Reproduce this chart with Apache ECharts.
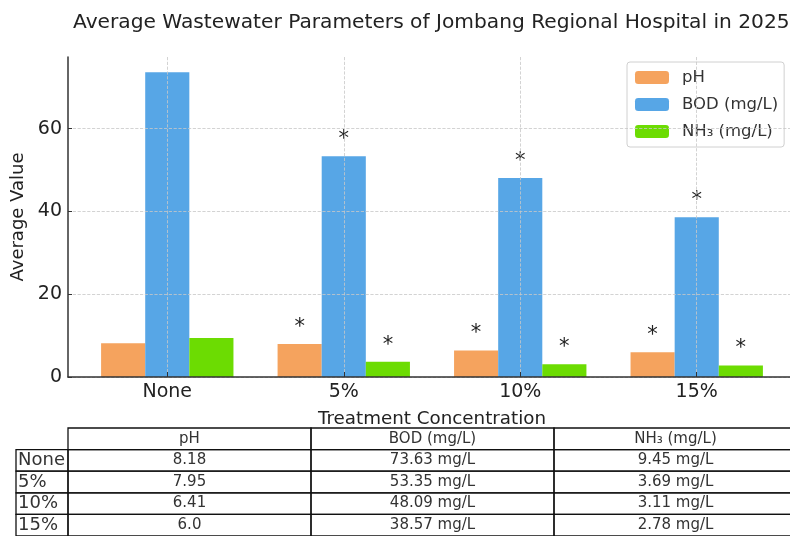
<!DOCTYPE html>
<html>
<head>
    <meta charset="utf-8">
    <title>Average Wastewater Parameters</title>
    <script src="https://cdn.jsdelivr.net/npm/echarts@6.0.0/dist/echarts.min.js"></script>
    <style>
        body {
            margin: 0;
            padding: 0;
            background: #fff;
            overflow: hidden;
        }

        #chart {
            width: 790px;
            height: 536px;
        }
    </style>
</head>
<body>
    <div id="chart"></div>

    <script>
        // data
        const concentrations = ['None', '5%', '10%', '15%'];
        const paramNames = ['pH', 'BOD (mg/L)', 'NH\u2083 (mg/L)'];
        const phValues = [8.18, 7.95, 6.41, 6.0];
        const bodValues = [73.63, 53.35, 48.09, 38.57];
        const nh3Values = [9.45, 3.69, 3.11, 2.78];
        // which bars carry a significance star
        const phStars = [false, true, true, true];
        const bodStars = [false, true, true, true];
        const nh3Stars = [false, true, true, true];
        const yTicks = [0, 20, 40, 60];

        const font = 'DejaVu Sans';
        const colors = ['#F5A35E', '#57A6E6', '#6CDC02'];

        const chart = echarts.init(document.getElementById('chart'));

        function pyStr(v) {
            return Number.isInteger(v) ? v.toFixed(1) : String(v);
        }

        function barData(values, stars) {
            return values.map((v, i) => ({
                value: [i, v],
                label: { show: stars[i] }
            }));
        }

        const starLabel = {
            show: false,
            position: 'top',
            distance: 6,
            formatter: '*',
            fontFamily: font,
            fontSize: 21,
            color: '#222'
        };

        // table cells: header row then one row per concentration
        const cells = [];
        paramNames.forEach((p, c) => cells.push({ col: c, row: 0, text: p }));
        concentrations.forEach((name, r) => {
            cells.push({ col: -1, row: r + 1, text: name });
            cells.push({ col: 0, row: r + 1, text: pyStr(phValues[r]) });
            cells.push({ col: 1, row: r + 1, text: bodValues[r] + ' mg/L' });
            cells.push({ col: 2, row: r + 1, text: nh3Values[r] + ' mg/L' });
        });
        const labelColWidth = 52;

        const option = {
            animation: false,
            backgroundColor: '#fff',
            textStyle: { fontFamily: font },
            title: {
                text: 'Average Wastewater Parameters of Jombang Regional Hospital in 2025',
                left: 73,
                top: 13,
                padding: 0,
                textStyle: {
                    fontFamily: font,
                    fontSize: 20.2,
                    fontWeight: 'normal',
                    color: '#222'
                }
            },
            legend: {
                orient: 'vertical',
                left: 627,
                top: 62,
                padding: [7, 6, 7, 8],
                itemWidth: 34,
                itemHeight: 13,
                itemGap: 10,
                backgroundColor: 'rgba(255,255,255,0.85)',
                borderColor: '#d0d0d0',
                borderWidth: 1,
                borderRadius: 3,
                textStyle: {
                    fontFamily: font,
                    fontSize: 16.5,
                    color: '#333',
                    padding: [0, 0, 0, 8]
                },
                data: paramNames
            },
            grid: [
                { left: 68, right: -6, top: 57, bottom: 159, outerBoundsMode: 'none' },
                { left: 68, right: -7, top: 428, bottom: 0, outerBoundsMode: 'none' }
            ],
            xAxis: [{
                type: 'value',
                min: -0.5625,
                max: 3.5625,
                z: 5,
                axisLine: { onZero: false, lineStyle: { color: '#333', width: 1.5 } },
                axisTick: {
                    inside: true,
                    length: 5,
                    customValues: [0, 1, 2, 3],
                    lineStyle: { color: '#333' }
                },
                axisLabel: {
                    customValues: [0, 1, 2, 3],
                    formatter: v => concentrations[Math.round(v)],
                    fontFamily: font,
                    fontSize: 19,
                    color: '#222',
                    margin: 6
                },
                splitLine: {
                    show: true,
                    lineStyle: { color: '#c8c8c8', type: 'dashed', width: 0.8 }
                },
                name: 'Treatment Concentration',
                nameLocation: 'middle',
                nameGap: 33,
                nameTextStyle: { fontFamily: font, fontSize: 18.3, color: '#222' }
            }, {
                type: 'value',
                gridIndex: 1,
                min: 0,
                max: 3,
                show: false
            }],
            yAxis: [{
                type: 'value',
                min: 0,
                max: 77.3,
                z: 5,
                axisLine: { show: true, onZero: false, lineStyle: { color: '#333', width: 1.5 } },
                axisTick: {
                    show: true,
                    inside: true,
                    length: 4,
                    customValues: yTicks,
                    lineStyle: { color: '#333' }
                },
                axisLabel: {
                    customValues: yTicks,
                    fontFamily: font,
                    fontSize: 19,
                    color: '#222',
                    margin: 6
                },
                splitLine: {
                    show: true,
                    lineStyle: { color: '#c8c8c8', type: 'dashed', width: 0.8 }
                },
                name: 'Average Value',
                nameLocation: 'middle',
                nameGap: 39,
                nameTextStyle: { fontFamily: font, fontSize: 18, color: '#222' }
            }, {
                type: 'category',
                gridIndex: 1,
                inverse: true,
                data: ['', ...concentrations],
                show: false
            }],
            series: [{
                name: paramNames[0],
                type: 'bar',
                barWidth: '25%',
                barGap: '0%',
                itemStyle: { color: colors[0] },
                label: starLabel,
                data: barData(phValues, phStars)
            }, {
                name: paramNames[1],
                type: 'bar',
                barWidth: '25%',
                barGap: '0%',
                itemStyle: { color: colors[1] },
                label: starLabel,
                data: barData(bodValues, bodStars)
            }, {
                name: paramNames[2],
                type: 'bar',
                barWidth: '25%',
                barGap: '0%',
                itemStyle: { color: colors[2] },
                label: starLabel,
                data: barData(nh3Values, nh3Stars)
            }, {
                type: 'custom',
                xAxisIndex: 1,
                yAxisIndex: 1,
                silent: true,
                z: 10,
                data: cells.map(c => [c.col, c.row]),
                renderItem: function (params, api) {
                    const cell = cells[params.dataIndex];
                    const cs = params.coordSys;
                    const rowH = api.size([0, 1])[1];
                    const yc = api.coord([0, cell.row])[1];
                    let x0, w;
                    if (cell.col < 0) {
                        x0 = cs.x - labelColWidth;
                        w = labelColWidth;
                    } else {
                        x0 = api.coord([cell.col, 0])[0];
                        w = api.size([1, 0])[0];
                    }
                    return {
                        type: 'group',
                        children: [{
                            type: 'rect',
                            shape: { x: x0, y: yc - rowH / 2, width: w, height: rowH },
                            style: { fill: 'none', stroke: '#111', lineWidth: 1.3 }
                        }, {
                            type: 'text',
                            style: {
                                text: cell.text,
                                x: cell.col < 0 ? x0 + 2 : x0 + w / 2,
                                y: yc,
                                align: cell.col < 0 ? 'left' : 'center',
                                verticalAlign: 'middle',
                                fontFamily: font,
                                fontSize: cell.col < 0 ? 18 : 15,
                                fill: '#333'
                            }
                        }]
                    };
                }
            }]
        };

        chart.setOption(option);

        window.addEventListener('resize', function () {
            chart.resize();
        });
    </script>
</body>
</html>
